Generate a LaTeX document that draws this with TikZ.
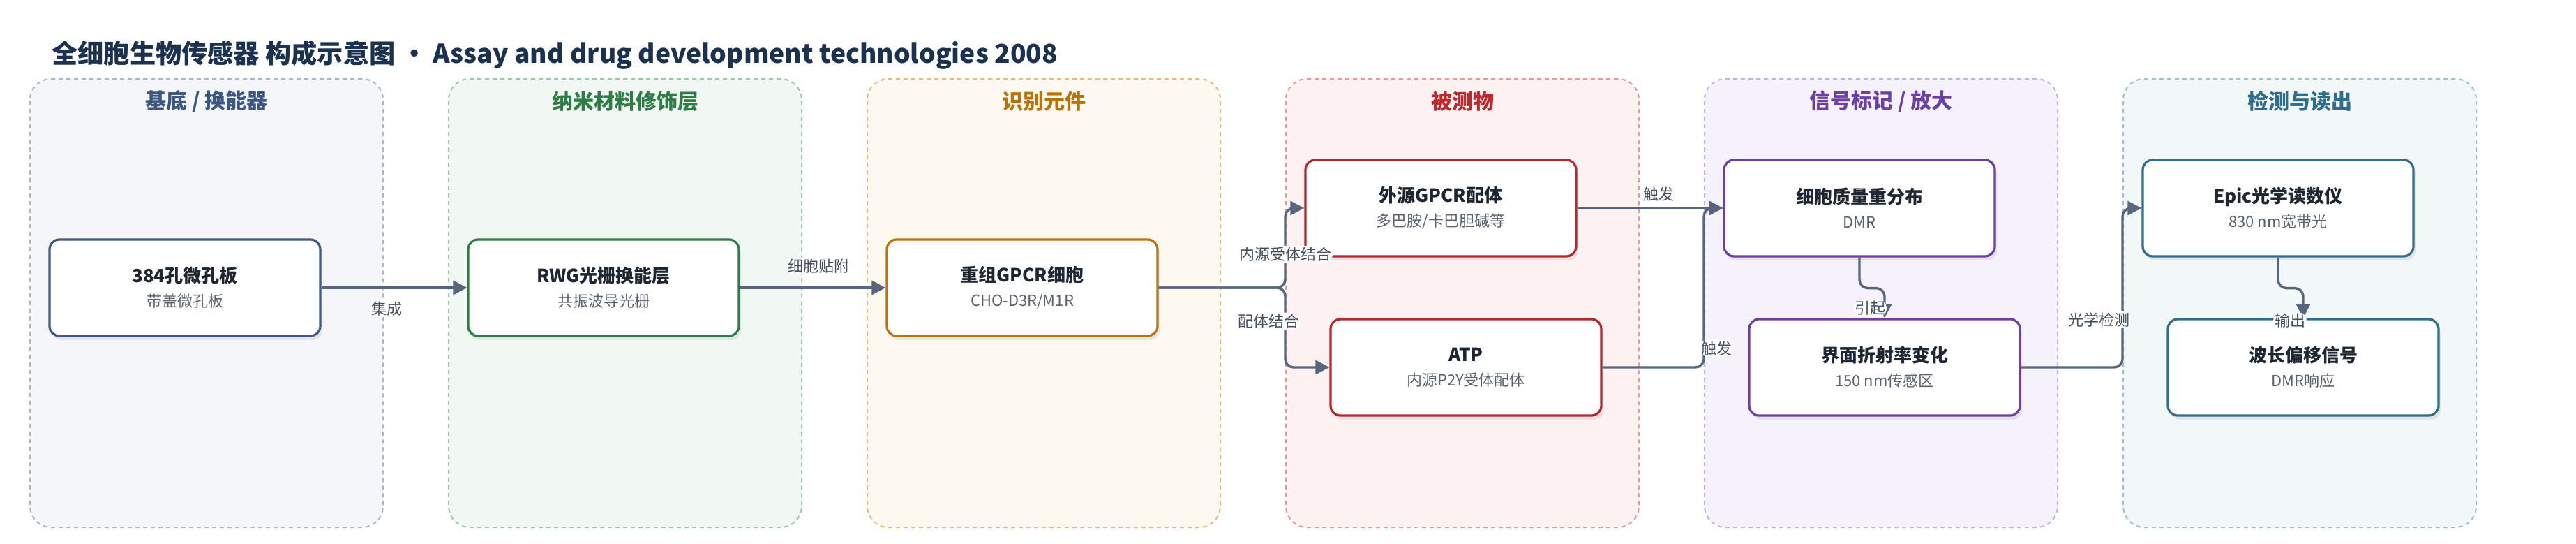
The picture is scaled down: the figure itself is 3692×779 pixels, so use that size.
\documentclass[tikz,border=0pt]{standalone}
\usepackage{fontspec}
\setmainfont{Noto Sans CJK SC}
\usetikzlibrary{positioning,calc,arrows.meta,shadows}

\definecolor{ink}{HTML}{1B3150}
\definecolor{headc}{HTML}{1E2633}
\definecolor{subc}{HTML}{596170}
\definecolor{lblc}{HTML}{444E5E}
\definecolor{flowc}{HTML}{56677D}
\definecolor{f1}{HTML}{F4F6FA}\definecolor{l1}{HTML}{A9B7CA}\definecolor{t1}{HTML}{3B5680}\definecolor{b1}{HTML}{3E5A86}
\definecolor{f2}{HTML}{F1F8F3}\definecolor{l2}{HTML}{99C9A6}\definecolor{t2}{HTML}{2E7D46}\definecolor{b2}{HTML}{2E7D46}
\definecolor{f3}{HTML}{FDF8F0}\definecolor{l3}{HTML}{E3BD80}\definecolor{t3}{HTML}{B8720C}\definecolor{b3}{HTML}{B8740F}
\definecolor{f4}{HTML}{FDF2F1}\definecolor{l4}{HTML}{E79A9A}\definecolor{t4}{HTML}{C0272D}\definecolor{b4}{HTML}{B5282C}
\definecolor{f5}{HTML}{F6F2FB}\definecolor{l5}{HTML}{C6B1E2}\definecolor{t5}{HTML}{6C3FA3}\definecolor{b5}{HTML}{6C3FA0}
\definecolor{f6}{HTML}{F2F7F8}\definecolor{l6}{HTML}{9DC1CD}\definecolor{t6}{HTML}{2E6E8A}\definecolor{b6}{HTML}{2F6F8A}

\tikzset{
    panel/.style 2 args={draw=#2, fill=#1, line width=1pt, dash pattern=on 3pt off 2.5pt,
        rounded corners=15pt, minimum width=253pt, minimum height=321pt, inner sep=0pt},
    ptitle/.style={text=#1, font=\fontsize{15}{18}\selectfont\bfseries},
    block/.style={draw=#1, line width=1.6pt, fill=white, rounded corners=7pt,
        minimum width=194pt, minimum height=69pt, align=center, inner sep=2pt,
        font=\fontsize{11}{17.5}\selectfont,
        drop shadow={shadow xshift=1.5pt, shadow yshift=-3pt, opacity=0.15}},
    flow/.style={draw=flowc, line width=1.7pt, rounded corners=6pt,
        -{Triangle[length=10pt,width=10pt]}},
    lbl/.style={fill=white, text=lblc, inner sep=1pt, font=\fontsize{11}{13}\selectfont},
}
\newcommand{\blk}[2]{{\fontsize{13}{17.5}\selectfont\bfseries\color{headc}#1}\\{\color{subc}#2}}

\begin{document}
\begin{tikzpicture}[x=0.5pt, y=-0.5pt]
    \useasboundingbox (0,0) rectangle (3692,779);

    \node[anchor=base west, inner sep=0pt, text=ink, font=\fontsize{18.6}{22}\selectfont\bfseries] (title)
        at (74,91) {全细胞生物传感器 构成示意图 • Assay and drug development technologies 2008};

    \node[panel={f1}{l1}] (p1) at (296,434) {};
    \node[panel={f2}{l2}, right=46pt of p1] (p2) {};
    \node[panel={f3}{l3}, right=46pt of p2] (p3) {};
    \node[panel={f4}{l4}, right=46pt of p3] (p4) {};
    \node[panel={f5}{l5}, right=46pt of p4] (p5) {};
    \node[panel={f6}{l6}, right=46pt of p5] (p6) {};

    \node[ptitle=t1] (h1) at ($(p1.north)+(0,33)$) {基底 / 换能器};
    \node[ptitle=t2] (h2) at ($(p2.north)+(0,33)$) {纳米材料修饰层};
    \node[ptitle=t3] (h3) at ($(p3.north)+(0,33)$) {识别元件};
    \node[ptitle=t4] (h4) at ($(p4.north)+(0,33)$) {被测物};
    \node[ptitle=t5] (h5) at ($(p5.north)+(0,33)$) {信号标记 / 放大};
    \node[ptitle=t6] (h6) at ($(p6.north)+(0,33)$) {检测与读出};

    \node[block=b1] (plate) at ($(p1.center)+(-31,-22)$) {\blk{384孔微孔板}{带盖微孔板}};
    \node[block=b2] (rwg) at ($(p2.center)+(-31,-22)$) {\blk{RWG光栅换能层}{共振波导光栅}};
    \node[block=b3] (cell) at ($(p3.center)+(-31,-22)$) {\blk{重组GPCR细胞}{CHO-D3R/M1R}};
    \node[block=b4] (ligand) at ($(p4.center)+(-31,-136)$) {\blk{外源GPCR配体}{多巴胺/卡巴胆碱等}};
    \node[block=b4] (atp) at ($(p4.center)+(5,92)$) {\blk{ATP}{内源P2Y受体配体}};
    \node[block=b5] (dmr) at ($(p5.center)+(-31,-136)$) {\blk{细胞质量重分布}{DMR}};
    \node[block=b5] (ri) at ($(p5.center)+(5,92)$) {\blk{界面折射率变化}{150 nm传感区}};
    \node[block=b6] (epic) at ($(p6.center)+(-31,-136)$) {\blk{Epic光学读数仪}{830 nm宽带光}};
    \node[block=b6] (shift) at ($(p6.center)+(5,92)$) {\blk{波长偏移信号}{DMR响应}};

    \draw[flow] (plate) -- node[lbl, pos=0.45, yshift=-15pt] {集成} (rwg);
    \draw[flow] (rwg) -- node[lbl, pos=0.54, yshift=15.5pt] {细胞贴附} (cell);
    \draw[flow] (cell.east) -- (cell.east -| p4.west) |- node[lbl, pos=0.21] {内源受体结合} (ligand.west);
    \draw[flow] (cell.east) -- (cell.east -| p4.west) |- node[lbl, pos=0.21, xshift=-12pt] {配体结合} (atp.west);
    \draw[flow] (ligand) -- node[lbl, pos=0.56, yshift=10pt] {触发} (dmr);
    \draw[flow] (atp.east) -- (atp.east -| p5.west) |- node[lbl, pos=0.06, xshift=9pt] {触发} (dmr.west);
    \draw[flow] (dmr.south) -- ++(0,44) -| node[lbl, pos=0.84, xshift=-10.5pt] {引起} (ri.north);
    \draw[flow] (ri.east) -- (ri.east -| p6.west) |- node[lbl, pos=0.15, xshift=-17pt] {光学检测} (epic.west);
    \draw[flow] (epic.south) -- ++(0,44) -| node[lbl, pos=1, xshift=-9.5pt, yshift=-2pt] {输出} (shift.north);
\end{tikzpicture}
\end{document}
